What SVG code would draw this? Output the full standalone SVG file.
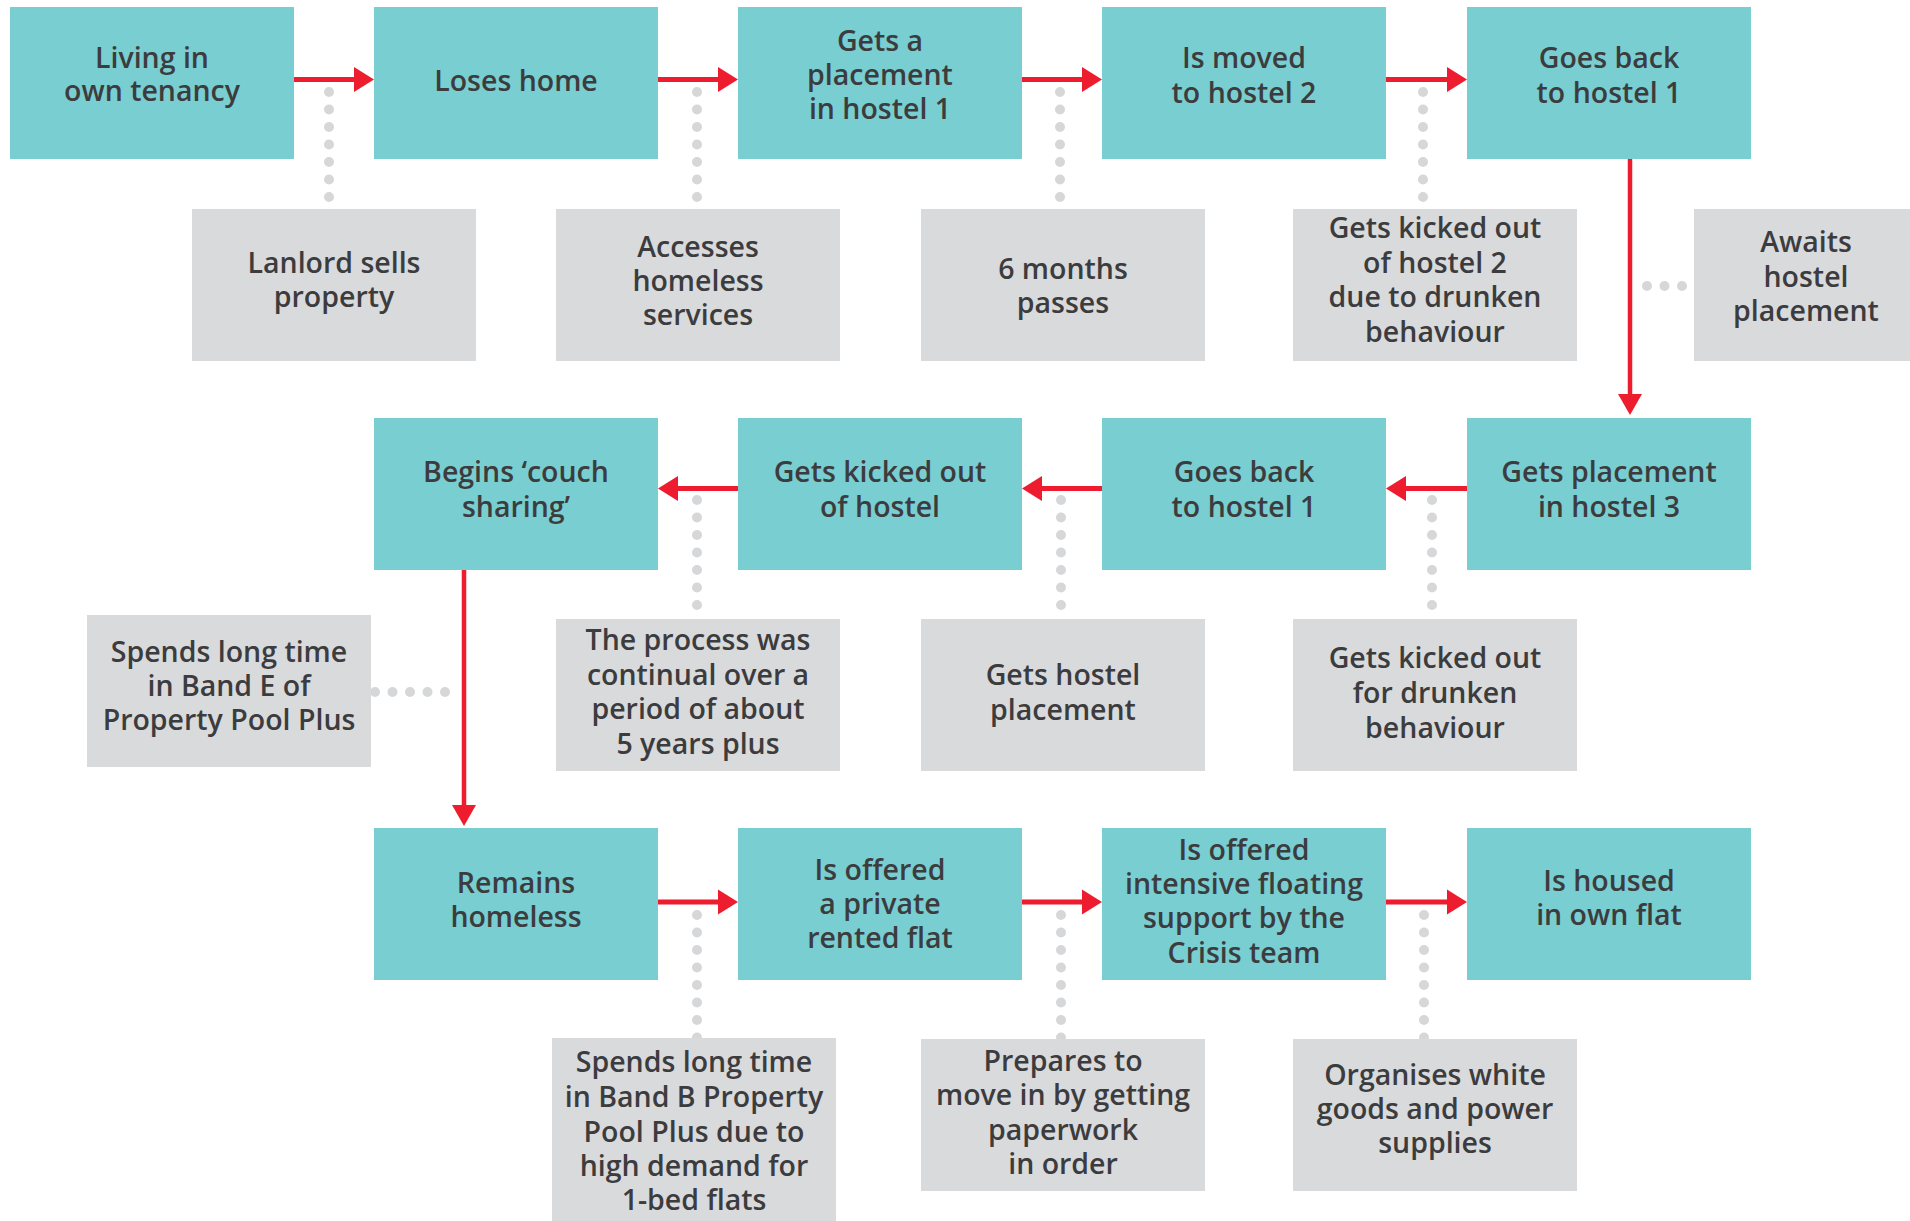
<svg xmlns="http://www.w3.org/2000/svg" width="1910" height="1221" viewBox="0 0 1910 1221">
<defs>
<style>
.t{fill:#79CED1}
.g{fill:#D9DADC}
text{font-family:"Open Sans","Liberation Sans",sans-serif;font-weight:600;font-size:28.5px;fill:#3C3C3E;text-anchor:middle}
.ln{stroke:#ED1C2E;stroke-width:5;fill:none}
.vl{stroke:#ED1C2E;stroke-width:4.5;fill:none}
.hd{fill:#ED1C2E}
.dot{stroke:#D6D7D9;stroke-width:10;stroke-linecap:round;stroke-dasharray:0 17.5;fill:none}
</style>
</defs>
<rect width="1910" height="1221" fill="#FFFFFF"/>
<g id="connectors">
<line class="dot" x1="329" y1="92" x2="329" y2="198"/>
<line class="dot" x1="697" y1="92" x2="697" y2="198"/>
<line class="dot" x1="1060" y1="92" x2="1060" y2="198"/>
<line class="dot" x1="1423" y1="92" x2="1423" y2="198"/>
<line class="dot" x1="1647" y1="286" x2="1682.5" y2="286"/>
<line class="dot" x1="697" y1="500" x2="697" y2="606"/>
<line class="dot" x1="1061" y1="500" x2="1061" y2="606"/>
<line class="dot" x1="1432" y1="500" x2="1432" y2="606"/>
<line class="dot" x1="375" y1="692" x2="446" y2="692"/>
<line class="dot" x1="697" y1="915" x2="697" y2="1038"/>
<line class="dot" x1="1061" y1="915" x2="1061" y2="1038"/>
<line class="dot" x1="1424" y1="915" x2="1424" y2="1038"/>
<line class="ln" x1="294" y1="79.5" x2="356" y2="79.5"/><polygon class="hd" points="354,67 374,79.5 354,92"/>
<line class="ln" x1="658" y1="79.5" x2="720" y2="79.5"/><polygon class="hd" points="718,67 738,79.5 718,92"/>
<line class="ln" x1="1022" y1="79.5" x2="1084" y2="79.5"/><polygon class="hd" points="1082,67 1102,79.5 1082,92"/>
<line class="ln" x1="1386" y1="79.5" x2="1449" y2="79.5"/><polygon class="hd" points="1447,67 1467,79.5 1447,92"/>
<line class="vl" x1="1630" y1="159" x2="1630" y2="396"/><polygon class="hd" points="1618,394 1630,415 1642,394"/>
<line class="ln" x1="1467" y1="488.5" x2="1404" y2="488.5"/><polygon class="hd" points="1406,476 1386,488.5 1406,501"/>
<line class="ln" x1="1102" y1="488.5" x2="1040" y2="488.5"/><polygon class="hd" points="1042,476 1022,488.5 1042,501"/>
<line class="ln" x1="738" y1="488.5" x2="676" y2="488.5"/><polygon class="hd" points="678,476 658,488.5 678,501"/>
<line class="vl" x1="464" y1="570" x2="464" y2="807"/><polygon class="hd" points="452,805 464,826 476,805"/>
<line class="ln" x1="658" y1="902" x2="720" y2="902"/><polygon class="hd" points="718,889.5 738,902 718,914.5"/>
<line class="ln" x1="1022" y1="902" x2="1084" y2="902"/><polygon class="hd" points="1082,889.5 1102,902 1082,914.5"/>
<line class="ln" x1="1386" y1="902" x2="1449" y2="902"/><polygon class="hd" points="1447,889.5 1467,902 1447,914.5"/>
</g>
<g id="n1"><rect class="t" x="10" y="7" width="284" height="152"/><text x="152" y="68">Living in</text><text x="152" y="101">own tenancy</text></g>
<g id="n2"><rect class="t" x="374" y="7" width="284" height="152"/><text x="516" y="91">Loses home</text></g>
<g id="n3"><rect class="t" x="738" y="7" width="284" height="152"/><text x="880" y="51">Gets a</text><text x="880" y="85">placement</text><text x="880" y="119">in hostel 1</text></g>
<g id="n4"><rect class="t" x="1102" y="7" width="284" height="152"/><text x="1244" y="68">Is moved</text><text x="1244" y="103">to hostel 2</text></g>
<g id="n5"><rect class="t" x="1467" y="7" width="284" height="152"/><text x="1609" y="68">Goes back</text><text x="1609" y="103">to hostel 1</text></g>
<g id="g1"><rect class="g" x="192" y="209" width="284" height="152"/><text x="334" y="273">Lanlord sells</text><text x="334" y="307">property</text></g>
<g id="g2"><rect class="g" x="556" y="209" width="284" height="152"/><text x="698" y="257">Accesses</text><text x="698" y="291">homeless</text><text x="698" y="325">services</text></g>
<g id="g3"><rect class="g" x="921" y="209" width="284" height="152"/><text x="1063" y="279">6 months</text><text x="1063" y="313">passes</text></g>
<g id="g4"><rect class="g" x="1293" y="209" width="284" height="152"/><text x="1435" y="238">Gets kicked out</text><text x="1435" y="273">of hostel 2</text><text x="1435" y="307">due to drunken</text><text x="1435" y="342">behaviour</text></g>
<g id="g5"><rect class="g" x="1694" y="209" width="216" height="152"/><text x="1806" y="252">Awaits</text><text x="1806" y="287">hostel</text><text x="1806" y="321">placement</text></g>
<g id="n6"><rect class="t" x="1467" y="418" width="284" height="152"/><text x="1609" y="482">Gets placement</text><text x="1609" y="517">in hostel 3</text></g>
<g id="n7"><rect class="t" x="1102" y="418" width="284" height="152"/><text x="1244" y="482">Goes back</text><text x="1244" y="517">to hostel 1</text></g>
<g id="n8"><rect class="t" x="738" y="418" width="284" height="152"/><text x="880" y="482">Gets kicked out</text><text x="880" y="517">of hostel</text></g>
<g id="n9"><rect class="t" x="374" y="418" width="284" height="152"/><text x="516" y="482">Begins ‘couch</text><text x="516" y="517">sharing’</text></g>
<g id="g6"><rect class="g" x="87" y="615" width="284" height="152"/><text x="229" y="662">Spends long time</text><text x="229" y="696">in Band E of</text><text x="229" y="730">Property Pool Plus</text></g>
<g id="g7"><rect class="g" x="556" y="619" width="284" height="152"/><text x="698" y="650">The process was</text><text x="698" y="685">continual over a</text><text x="698" y="719">period of about</text><text x="698" y="754">5 years plus</text></g>
<g id="g8"><rect class="g" x="921" y="619" width="284" height="152"/><text x="1063" y="685">Gets hostel</text><text x="1063" y="720">placement</text></g>
<g id="g9"><rect class="g" x="1293" y="619" width="284" height="152"/><text x="1435" y="668">Gets kicked out</text><text x="1435" y="703">for drunken</text><text x="1435" y="738">behaviour</text></g>
<g id="n10"><rect class="t" x="374" y="828" width="284" height="152"/><text x="516" y="893">Remains</text><text x="516" y="927">homeless</text></g>
<g id="n11"><rect class="t" x="738" y="828" width="284" height="152"/><text x="880" y="880">Is offered</text><text x="880" y="914">a private</text><text x="880" y="948">rented flat</text></g>
<g id="n12"><rect class="t" x="1102" y="828" width="284" height="152"/><text x="1244" y="860">Is offered</text><text x="1244" y="894">intensive floating</text><text x="1244" y="928">support by the</text><text x="1244" y="963">Crisis team</text></g>
<g id="n13"><rect class="t" x="1467" y="828" width="284" height="152"/><text x="1609" y="891">Is housed</text><text x="1609" y="925">in own flat</text></g>
<g id="g10"><rect class="g" x="552" y="1038" width="284" height="183"/><text x="694" y="1072">Spends long time</text><text x="694" y="1107">in Band B Property</text><text x="694" y="1142">Pool Plus due to</text><text x="694" y="1176">high demand for</text><text x="694" y="1210">1-bed flats</text></g>
<g id="g11"><rect class="g" x="921" y="1039" width="284" height="152"/><text x="1063" y="1071">Prepares to</text><text x="1063" y="1105">move in by getting</text><text x="1063" y="1140">paperwork</text><text x="1063" y="1174">in order</text></g>
<g id="g12"><rect class="g" x="1293" y="1039" width="284" height="152"/><text x="1435" y="1085">Organises white</text><text x="1435" y="1119">goods and power</text><text x="1435" y="1153">supplies</text></g>
</svg>
